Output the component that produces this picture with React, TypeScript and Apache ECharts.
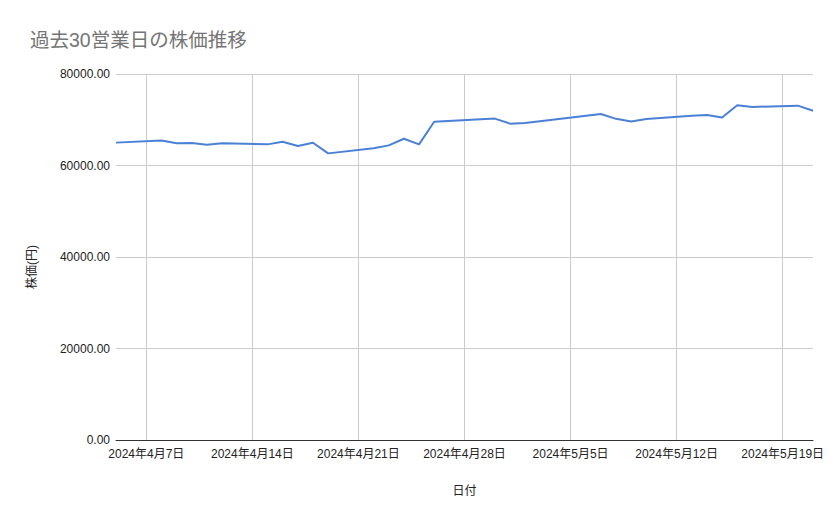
import React, { useEffect, useRef } from 'react';
import * as echarts from 'echarts';

// 営業日（4/29・5/3・5/6 は祝日のため除外）
const dates = [
  '2024-04-05', '2024-04-08', '2024-04-09', '2024-04-10', '2024-04-11', '2024-04-12',
  '2024-04-15', '2024-04-16', '2024-04-17', '2024-04-18', '2024-04-19',
  '2024-04-22', '2024-04-23', '2024-04-24', '2024-04-25', '2024-04-26',
  '2024-04-30', '2024-05-01', '2024-05-02',
  '2024-05-07', '2024-05-08', '2024-05-09', '2024-05-10',
  '2024-05-13', '2024-05-14', '2024-05-15', '2024-05-16', '2024-05-17',
  '2024-05-20', '2024-05-21',
];

const prices = [
  65000, 65450, 64850, 64920, 64550, 64850,
  64620, 65200, 64250, 64980, 62650,
  63750, 64400, 65850, 64620, 69550,
  70250, 69150, 69300,
  71250, 70200, 69600, 70150,
  70850, 71050, 70500, 73150, 72800,
  73080, 71980,
];

const xTickDates = [
  '2024-04-07', '2024-04-14', '2024-04-21', '2024-04-28',
  '2024-05-05', '2024-05-12', '2024-05-19',
];

const yTicks = [0, 20000, 40000, 60000, 80000];

const X_MIN = '2024-04-05';
const X_MAX = '2024-05-21';

const toTs = (s: string) => {
  const [y, m, d] = s.split('-').map(Number);
  return Date.UTC(y, m - 1, d);
};

const fmtDate = (ts: number) => {
  const d = new Date(ts);
  return `${d.getUTCFullYear()}年${d.getUTCMonth() + 1}月${d.getUTCDate()}日`;
};

const FONT = '"Liberation Sans", Arial, "Noto Sans CJK JP", sans-serif';

const StockChart: React.FC = () => {
  const chartRef = useRef<HTMLDivElement>(null);

  useEffect(() => {
    if (!chartRef.current) return;
    const chart = echarts.init(chartRef.current, null, { renderer: 'svg' });

    const option: echarts.EChartsOption = {
      animation: false,
      backgroundColor: '#ffffff',
      textStyle: { fontFamily: FONT },
      title: {
        text: '過去30営業日の株価推移',
        left: 25,
        top: 25,
        textStyle: { color: '#757575', fontSize: 19.5, fontWeight: 'normal', fontFamily: FONT },
      },
      grid: { left: 116, right: 26, top: 74, bottom: 79 },
      xAxis: {
        type: 'value',
        min: toTs(X_MIN),
        max: toTs(X_MAX),
        name: '日付',
        nameLocation: 'middle',
        nameGap: 45,
        nameTextStyle: { color: '#222', fontSize: 12, fontFamily: FONT },
        axisLine: { show: true, onZero: false, lineStyle: { color: '#333', width: 1 } },
        axisTick: { show: false, customValues: xTickDates.map(toTs) },
        axisLabel: {
          color: '#222',
          fontSize: 12,
          margin: 8,
          customValues: xTickDates.map(toTs),
          formatter: (v: number) => fmtDate(v),
        },
        splitLine: { show: true, lineStyle: { color: '#cccccc', width: 1 } },
      },
      yAxis: {
        type: 'value',
        min: yTicks[0],
        max: yTicks[yTicks.length - 1],
        interval: 20000,
        name: '株価(円)',
        nameLocation: 'middle',
        nameGap: 78,
        nameTextStyle: { color: '#222', fontSize: 12, fontFamily: FONT, padding: [0, 20, 0, 0] },
        axisLine: { show: false },
        axisTick: { show: false },
        axisLabel: {
          color: '#222',
          fontSize: 12,
          margin: 6,
          formatter: (v: number) => v.toFixed(2),
        },
        splitLine: { show: true, lineStyle: { color: '#cccccc', width: 1 } },
      },
      series: [
        {
          name: '株価',
          type: 'line',
          data: dates.map((d, i) => [toTs(d), prices[i]]),
          showSymbol: false,
          symbol: 'none',
          lineStyle: { color: '#4a80d6', width: 2 },
          itemStyle: { color: '#4a80d6' },
        },
      ],
    };

    chart.setOption(option);

    return () => {
      chart.dispose();
    };
  }, []);

  return <div ref={chartRef} style={{ width: 839, height: 519 }} />;
};

export default function App() {
  useEffect(() => {
    document.body.style.margin = '0';
  }, []);
  return <StockChart />;
}
